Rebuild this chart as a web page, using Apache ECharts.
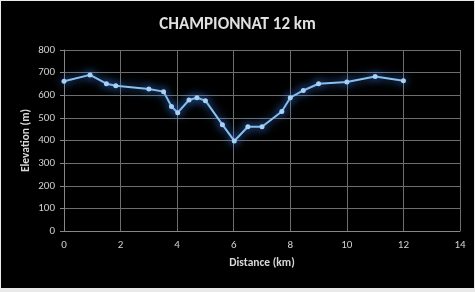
<!DOCTYPE html>
<html><head><meta charset="utf-8">
<script src="https://cdn.jsdelivr.net/npm/echarts@6/dist/echarts.min.js"></script>
<style>
html,body{margin:0;padding:0;background:#e9e9e9;width:475px;height:292px;overflow:hidden;}
#c{position:absolute;left:1px;top:1px;width:473px;height:287px;background:#000;}
</style></head>
<body><div id="c"></div>
<script>
const titleText = "CHAMPIONNAT 12 km";
const xName = "Distance (km)";
const yName = "Elevation (m)";
const distance = [0, 0.92, 1.5, 1.83, 3.0, 3.52, 3.8, 4.02, 4.42, 4.7, 5.0, 5.6, 6.02, 6.5, 7.0, 7.7, 8.0, 8.46, 9.0, 10.0, 11.0, 12.0];
const elevation = [662, 690, 651, 642, 628, 616, 550, 523, 579, 589, 576, 470, 398, 461, 461, 528, 589, 621, 651, 659, 683, 664];

const chart = echarts.init(document.getElementById('c'), null, {renderer:'canvas'});
const font = "Calibri, Carlito, 'Open Sans', 'Noto Sans', sans-serif";
chart.setOption({
  backgroundColor: '#000',
  animation: false,
  title: {
    text: titleText, left: 'center', top: 10,
    textStyle: {color: '#e0e0e0', fontSize: 17, fontWeight: 'bold', fontFamily: font}
  },
  grid: {left: 63, right: 14, top: 49, bottom: 57, containLabel: false},
  xAxis: {
    type: 'value', min: 0, max: 14, interval: 2,
    name: xName, nameLocation: 'middle', nameGap: 26, nameMoveOverlap: false,
    nameTextStyle: {color: '#d8d8d8', fontSize: 11.5, fontWeight: 'bold', fontFamily: font},
    axisLine: {show: true, lineStyle: {color: '#868686'}},
    axisTick: {show: false},
    axisLabel: {color: '#d0d0d0', fontSize: 11, margin: 9, fontFamily: font},
    splitLine: {show: true, lineStyle: {color: '#6e6e6e', width: 1}}
  },
  yAxis: {
    type: 'value', min: 0, max: 800, interval: 100,
    name: yName, nameLocation: 'middle', nameGap: 32, nameRotate: 90, nameMoveOverlap: false,
    nameTextStyle: {color: '#d8d8d8', fontSize: 11.5, fontWeight: 'bold', fontFamily: font},
    axisLine: {show: true, lineStyle: {color: '#868686'}},
    axisTick: {show: true, length: 4, lineStyle: {color: '#868686'}},
    axisLabel: {color: '#d0d0d0', fontSize: 11, margin: 9, fontFamily: font},
    splitLine: {show: true, lineStyle: {color: '#6e6e6e', width: 1}}
  },
  series: [{
    type: 'line',
    data: distance.map((d, i) => [d, elevation[i]]),
    symbol: 'circle', symbolSize: 5,
    lineStyle: {color: '#8cc2f0', width: 2, shadowColor: 'rgba(70,140,255,1)', shadowBlur: 10},
    itemStyle: {color: '#a8d2f5', shadowColor: 'rgba(70,140,255,1)', shadowBlur: 10}
  }]
});
</script></body></html>
